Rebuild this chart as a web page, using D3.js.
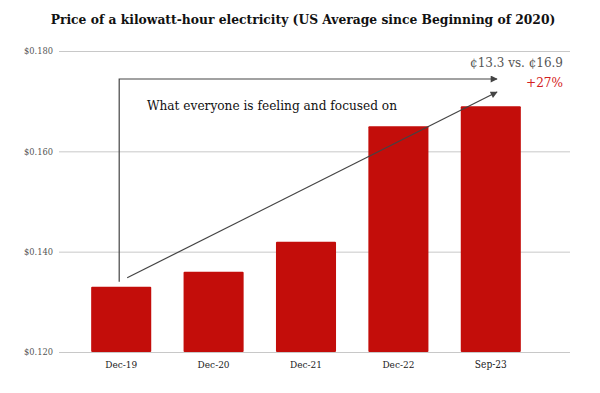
<!DOCTYPE html>
<html>
<head>
<meta charset="utf-8">
<script src="https://cdn.jsdelivr.net/npm/d3@7"></script>
<style>
  body { margin: 0; background: #fff; }
  svg text { font-family: "DejaVu Serif Condensed", "DejaVu Serif", serif; }
</style>
</head>
<body>
<div id="chart"></div>
<script>
// chart data
const periods = ["Dec-19", "Dec-20", "Dec-21", "Dec-22", "Sep-23"];
const prices = [0.133, 0.136, 0.142, 0.165, 0.169];
const yTicks = [0.120, 0.140, 0.160, 0.180];

const width = 600, height = 393;

const svg = d3.select("#chart").append("svg")
    .attr("width", width)
    .attr("height", height);

// shrink/grow font so the text spans roughly the width seen in the reference
function fitWidth(sel, target) {
    sel.each(function () {
        const fs = parseFloat(d3.select(this).style("font-size"));
        const w = this.getComputedTextLength();
        if (w > 0) d3.select(this).style("font-size", (fs * target / w).toFixed(2) + "px");
    });
}

// scales
const x = d3.scaleBand()
    .domain(periods)
    .range([75, 537])
    .paddingInner(0.35)
    .paddingOuter(0.175);

const y = d3.scaleLinear()
    .domain([0.120, 0.180])
    .range([352, 51]);

// title
svg.append("text")
    .attr("x", 303)
    .attr("y", 24)
    .attr("text-anchor", "middle")
    .style("font-size", "14px")
    .style("font-weight", "bold")
    .style("fill", "#111")
    .text("Price of a kilowatt-hour electricity (US Average since Beginning of 2020)")
    .call(fitWidth, 505);

// gridlines + y labels
const yAxis = d3.axisLeft(y)
    .tickValues(yTicks)
    .tickSize(-511)
    .tickPadding(6)
    .tickFormat(d => "$" + d.toFixed(3));

svg.append("g")
    .attr("transform", "translate(59,0)")
    .call(yAxis)
    .attr("font-family", null)
    .call(g => g.select(".domain").remove())
    .call(g => g.selectAll("line").attr("stroke", "#c8c8c8"))
    .call(g => g.selectAll("text")
        .style("font-size", "11px")
        .style("fill", "#555")
        .call(fitWidth, 29));

// bars
svg.append("g")
    .selectAll("rect")
    .data(prices)
    .enter()
    .append("rect")
    .attr("x", (d, i) => x(periods[i]))
    .attr("y", d => y(d))
    .attr("width", x.bandwidth())
    .attr("height", d => y(0.120) - y(d))
    .attr("rx", 1)
    .attr("fill", "#c30d0a");

// x labels
const xAxis = d3.axisBottom(x).tickSize(0).tickPadding(9);
svg.append("g")
    .attr("transform", "translate(0,352)")
    .call(xAxis)
    .attr("font-family", null)
    .call(g => g.select(".domain").remove())
    .call(g => g.selectAll("text")
        .style("font-size", "12px")
        .style("fill", "#222")
        .call(fitWidth, 32));

// arrows
const defs = svg.append("defs");
defs.append("marker")
    .attr("id", "arrow")
    .attr("viewBox", "0 0 10 10")
    .attr("refX", 9)
    .attr("refY", 5)
    .attr("markerWidth", 9)
    .attr("markerHeight", 7)
    .attr("markerUnits", "userSpaceOnUse")
    .attr("orient", "auto")
    .append("path")
    .attr("d", "M0,0 L10,5 L0,10 Z")
    .attr("fill", "#444");

const startX = x(periods[0]) + x.bandwidth() / 2 - 2;

svg.append("path")
    .attr("d", `M${startX},${y(prices[0]) - 5} V79 H497`)
    .attr("fill", "none")
    .attr("stroke", "#444")
    .attr("stroke-width", 1.2)
    .attr("marker-end", "url(#arrow)");

svg.append("line")
    .attr("x1", startX + 8)
    .attr("y1", y(prices[0]) - 9)
    .attr("x2", 497)
    .attr("y2", 92)
    .attr("stroke", "#444")
    .attr("stroke-width", 1.2)
    .attr("marker-end", "url(#arrow)");

// annotation text
svg.append("text")
    .attr("x", 147)
    .attr("y", 110)
    .style("font-size", "15px")
    .style("fill", "#111")
    .text("What everyone is feeling and focused on")
    .call(fitWidth, 250);

svg.append("text")
    .attr("x", 563)
    .attr("y", 67)
    .attr("text-anchor", "end")
    .style("font-size", "16px")
    .style("fill", "#555")
    .text("¢13.3 vs. ¢16.9")
    .call(fitWidth, 93);

svg.append("text")
    .attr("x", 563)
    .attr("y", 87)
    .attr("text-anchor", "end")
    .style("font-size", "16px")
    .style("fill", "#d42020")
    .text("+27%")
    .call(fitWidth, 37);
</script>
</body>
</html>
